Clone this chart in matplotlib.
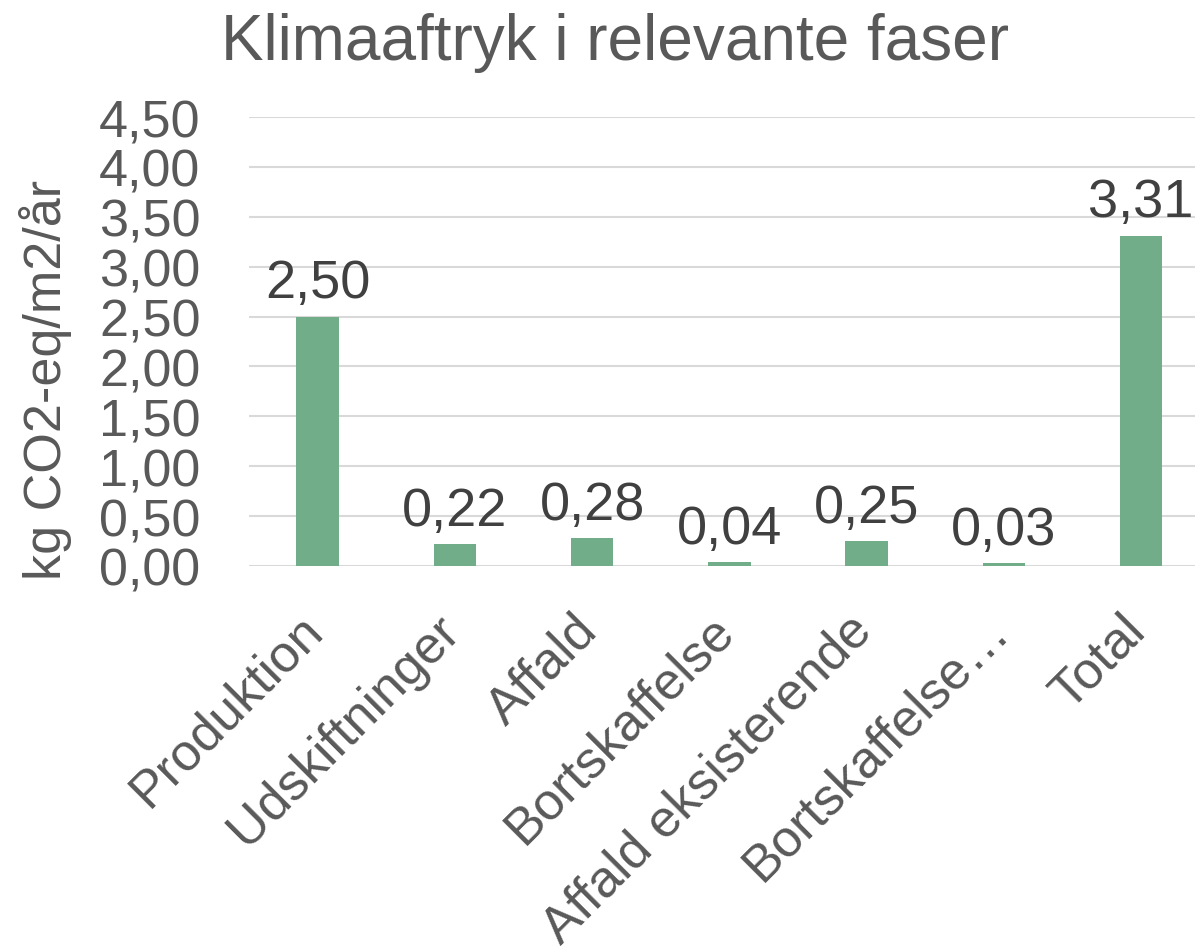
import matplotlib.pyplot as plt
import matplotlib.transforms as mtransforms
import numpy as np

plt.rcParams['font.family'] = ['Liberation Sans', 'DejaVu Sans']

# data
categories = ['Produktion', 'Udskiftninger', 'Affald', 'Bortskaffelse',
              'Affald eksisterende', 'Bortskaffelse…', 'Total']
values = [2.50, 0.22, 0.28, 0.04, 0.25, 0.03, 3.31]
yticks = [0, 0.5, 1.0, 1.5, 2.0, 2.5, 3.0, 3.5, 4.0, 4.5]

def fmt(v):
    return ('%.2f' % v).replace('.', ',')

fig = plt.figure(figsize=(11.95, 9.53), dpi=100)
ax = fig.add_axes([249 / 1195, 1 - 567 / 953, 1 - 249 / 1195, (567 - 118) / 953])

x = np.arange(len(categories))
ax.bar(x, values, width=0.31, color='#70AD88', zorder=3)

#Data labels above bars
for xi, v in zip(x, values):
    ax.annotate(fmt(v), (xi, v), xytext=(0, 6), textcoords='offset points',
                ha='center', va='bottom', fontsize=39, color='#404040')

ax.set_xlim(-0.5, -0.5 + (1195 - 249) / 137.25)
ax.set_ylim(0, 4.5)
ax.set_yticks(yticks)
ax.set_yticklabels([fmt(t) for t in yticks], fontsize=37.5, color='#595959')
ax.set_xticks(x)
ax.set_xticklabels(categories, fontsize=37.5, color='#595959', rotation=45,
                   ha='right', va='top', rotation_mode='anchor')
ax.tick_params(axis='both', length=0)
ax.tick_params(axis='y', pad=35)
ax.tick_params(axis='x', pad=28)
#Shift x labels a bit left (after tick_params, which resets transforms)
shift = mtransforms.ScaledTranslation(-20 / 100, 0, fig.dpi_scale_trans)
for tick in ax.xaxis.get_major_ticks():
    tick.label1.set_transform(tick.label1.get_transform() + shift)
ax.grid(axis='y', color='#D9D9D9', linewidth=1.5, zorder=0)
for s in ax.spines.values():
    s.set_visible(False)

ax.set_ylabel('kg CO2-eq/m2/år', fontsize=37.5, color='#595959')
ax.yaxis.set_label_coords(-0.187, (567 - 380) / 449)
fig.text(0.515, 0.955, 'Klimaaftryk i relevante faser', ha='center', va='center',
         fontsize=46, color='#595959')

fig.savefig('out.png', dpi=100)
